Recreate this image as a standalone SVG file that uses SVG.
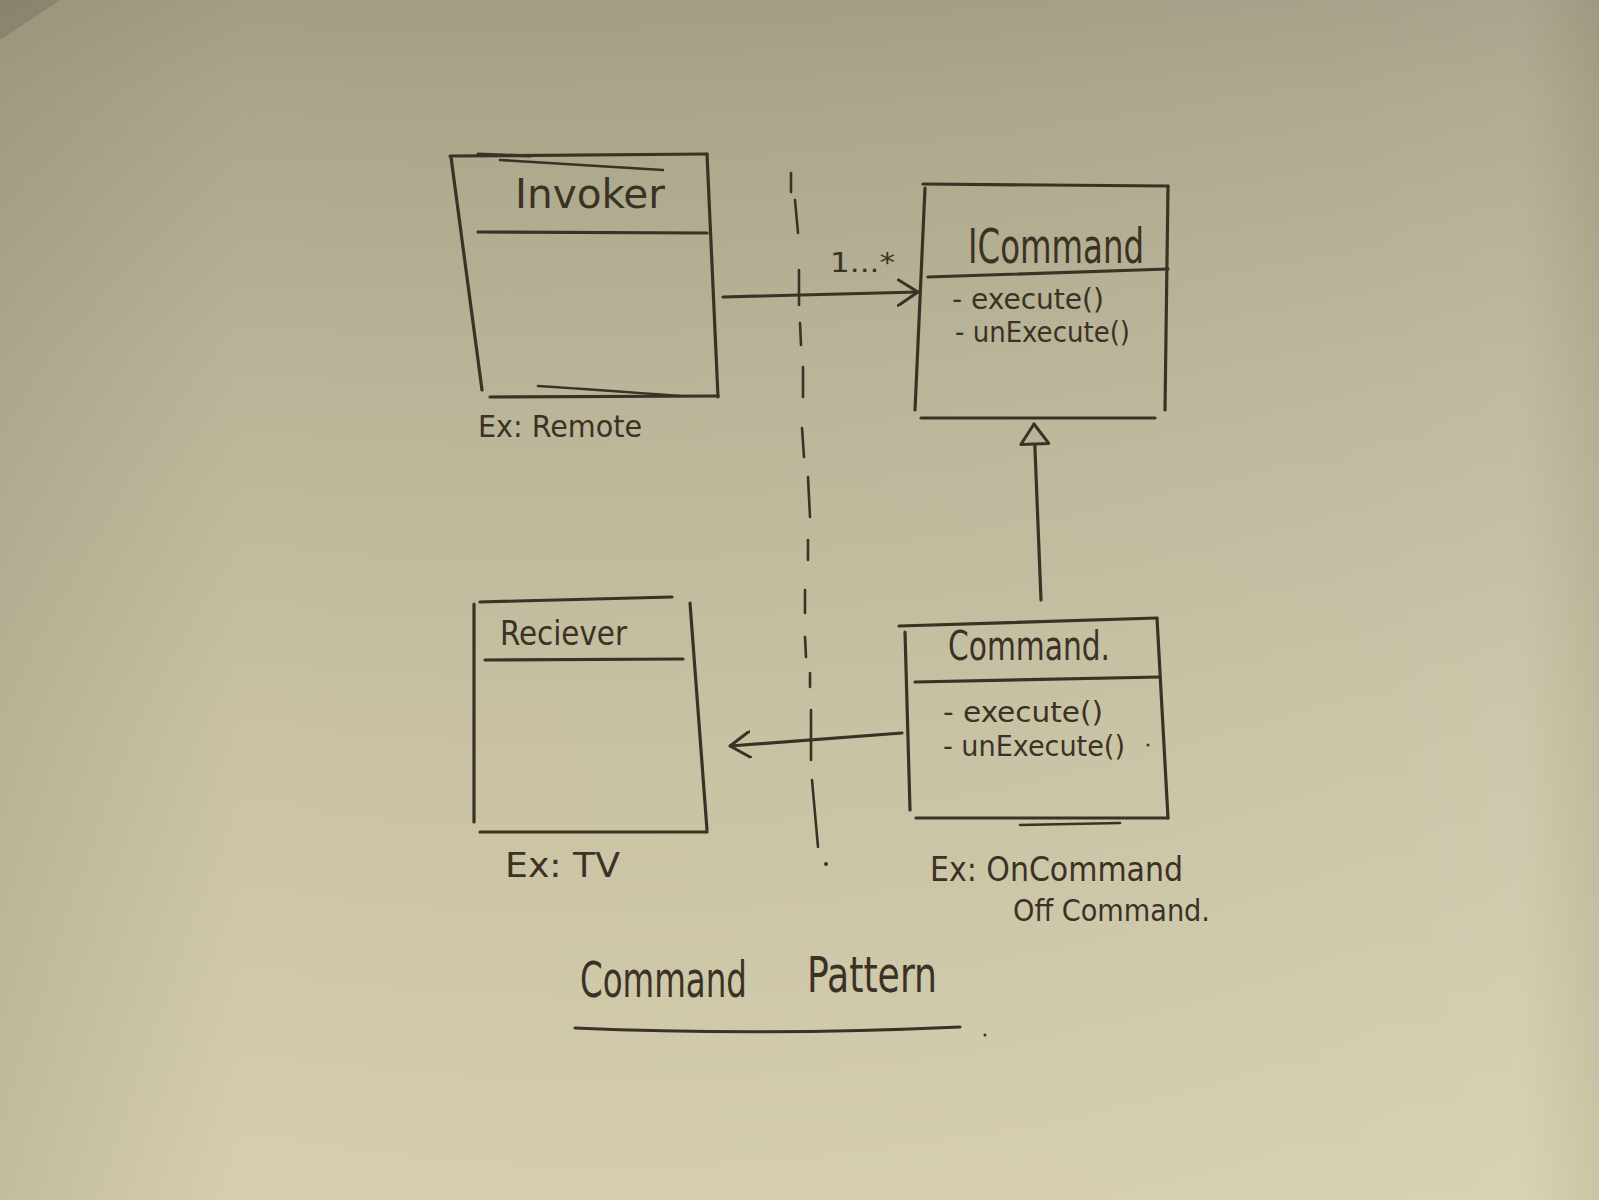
<svg xmlns="http://www.w3.org/2000/svg" width="1599" height="1200" viewBox="0 0 1599 1200">
  <defs>
    <linearGradient id="paperV" x1="0" y1="0" x2="0" y2="1">
      <stop offset="0" stop-color="#a29e84"/>
      <stop offset="0.08" stop-color="#aaa68a"/>
      <stop offset="0.3" stop-color="#b9b497"/>
      <stop offset="0.6" stop-color="#c8c2a3"/>
      <stop offset="1" stop-color="#d5cfaf"/>
    </linearGradient>
    <linearGradient id="paperH" x1="0" y1="0" x2="1" y2="0">
      <stop offset="0" stop-color="#6f6a55" stop-opacity="0.18"/>
      <stop offset="0.15" stop-color="#6f6a55" stop-opacity="0"/>
      <stop offset="0.85" stop-color="#ffffff" stop-opacity="0.05"/>
      <stop offset="0.95" stop-color="#ffffff" stop-opacity="0.08"/>
      <stop offset="1" stop-color="#6f6a55" stop-opacity="0.1"/>
    </linearGradient>
    <marker id="openArrow" viewBox="0 0 22 28" refX="21" refY="14" markerWidth="22" markerHeight="28" markerUnits="userSpaceOnUse" orient="auto">
      <path d="M1,1 L21,14 L1,27" fill="none" stroke="#3b3225" stroke-width="3" stroke-linecap="round" stroke-linejoin="round"/>
    </marker>
    <marker id="hollowTri" viewBox="0 0 24 32" refX="22" refY="16" markerWidth="24" markerHeight="32" markerUnits="userSpaceOnUse" orient="auto">
      <path d="M2,2 L22,16 L2,30 Z" fill="#b9b497" stroke="#3b3225" stroke-width="3" stroke-linejoin="round"/>
    </marker>
    <style>
      .ink { fill: none; stroke: #3b3225; stroke-width: 3.2; stroke-linecap: round; stroke-linejoin: round; }
      .thin { fill: none; stroke: #3b3225; stroke-width: 2.6; stroke-linecap: round; }
      .hand { fill: #3b3225; font-family: "DejaVu Sans Condensed", "Liberation Sans Narrow", "Liberation Sans", sans-serif; }
    </style>
  </defs>

  <g id="background">
    <rect x="0" y="0" width="1599" height="1200" fill="url(#paperV)"/>
    <rect x="0" y="0" width="1599" height="1200" fill="url(#paperH)"/>
    <path d="M0,0 L60,0 L0,40 Z" fill="#7d7966" opacity="0.6"/>
  </g>

  <g id="invoker">
    <path class="ink" d="M450,156 L707,154"/>
    <path class="ink" d="M478,154 L530,156"/>
    <path class="thin" d="M500,160 L663,170"/>
    <path class="ink" d="M451,157 L482,390"/>
    <path class="ink" d="M707,154 L718,397"/>
    <path class="ink" d="M490,397 L718,396"/>
    <path class="thin" d="M538,386 Q600,390 680,396"/>
    <path class="ink" d="M478,232 L707,233"/>
    <text class="hand" x="515" y="208" font-size="40" textLength="150" lengthAdjust="spacingAndGlyphs">Invoker</text>
    <text class="hand" x="478" y="437" font-size="30" textLength="164" lengthAdjust="spacingAndGlyphs">Ex: Remote</text>
  </g>

  <g id="icommand">
    <path class="ink" d="M923,184 L1168,186"/>
    <path class="ink" d="M925,188 L915,410"/>
    <path class="ink" d="M1168,186 L1165,410"/>
    <path class="ink" d="M921,418 L1155,418"/>
    <path class="ink" d="M928,277 L1168,269"/>
    <text class="hand" x="968" y="263" font-size="48" textLength="176" lengthAdjust="spacingAndGlyphs">ICommand</text>
    <text class="hand" x="952" y="309" font-size="28" textLength="152" lengthAdjust="spacingAndGlyphs">- execute()</text>
    <text class="hand" x="955" y="342" font-size="28" textLength="175" lengthAdjust="spacingAndGlyphs">- unExecute()</text>
  </g>

  <g id="receiver">
    <path class="ink" d="M480,602 L672,597"/>
    <path class="ink" d="M474,604 L474,822"/>
    <path class="ink" d="M690,603 L707,830"/>
    <path class="ink" d="M480,832 L707,832"/>
    <path class="ink" d="M485,660 L683,659"/>
    <text class="hand" x="500" y="645" font-size="34" textLength="127" lengthAdjust="spacingAndGlyphs">Reciever</text>
    <text class="hand" x="505" y="877" font-size="34" textLength="115" lengthAdjust="spacingAndGlyphs">Ex: TV</text>
  </g>

  <g id="command">
    <path class="ink" d="M899,626 L1157,618"/>
    <path class="ink" d="M905,632 L910,810"/>
    <path class="ink" d="M1157,618 L1168,818"/>
    <path class="ink" d="M916,818 L1168,818"/>
    <path class="thin" d="M1020,825 L1120,823"/>
    <path class="ink" d="M915,682 L1160,677"/>
    <text class="hand" x="948" y="660" font-size="40" textLength="162" lengthAdjust="spacingAndGlyphs">Command.</text>
    <text class="hand" x="943" y="722" font-size="28" textLength="160" lengthAdjust="spacingAndGlyphs">- execute()</text>
    <text class="hand" x="943" y="756" font-size="28" textLength="182" lengthAdjust="spacingAndGlyphs">- unExecute()</text>
    <circle cx="1148" cy="745" r="1.5" fill="#3b3225"/>
    <text class="hand" x="930" y="881" font-size="34" textLength="253" lengthAdjust="spacingAndGlyphs">Ex: OnCommand</text>
    <text class="hand" x="1013" y="921" font-size="30" textLength="197" lengthAdjust="spacingAndGlyphs">Off Command.</text>
  </g>

  <g id="boundary">
    <path class="thin" d="M791,173 L791,192 M795,200 L798,233 M799,270 L799,305 M800,323 L801,345 M803,367 L803,397 M802,428 L804,457 M808,477 L810,517 M808,540 L808,560 M805,590 L805,613 M805,637 L806,657 M810,673 L810,687 M811,710 L811,760 M812,780 L818,847"/>
    <circle cx="826" cy="864" r="2" fill="#3b3225"/>
  </g>

  <g id="connectors">
    <path class="ink" d="M723,297 L918,292" marker-end="url(#openArrow)"/>
    <text class="hand" x="830" y="272" font-size="26" textLength="65" lengthAdjust="spacingAndGlyphs">1...*</text>
    <path class="ink" d="M902,733 L730,746" marker-end="url(#openArrow)"/>
    <path class="ink" d="M1041,600 L1034,424" marker-end="url(#hollowTri)"/>
  </g>

  <g id="title">
    <text class="hand" x="580" y="997" font-size="50" textLength="167" lengthAdjust="spacingAndGlyphs">Command</text>
    <text class="hand" x="807" y="992" font-size="50" textLength="130" lengthAdjust="spacingAndGlyphs">Pattern</text>
    <path class="ink" d="M575,1028 Q760,1036 960,1027" stroke-width="3.5"/>
    <circle cx="985" cy="1035" r="1.5" fill="#3b3225"/>
  </g>
</svg>
